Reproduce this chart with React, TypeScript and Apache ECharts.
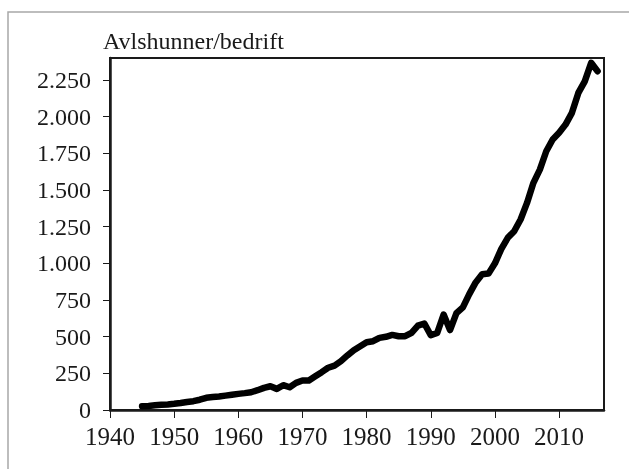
import React, { useEffect, useRef } from "react";
import * as echarts from "echarts";

const years: number[] = [
  1945, 1946, 1947, 1948, 1949, 1950, 1951, 1952, 1953, 1954, 1955, 1956, 1957, 1958, 1959,
  1960, 1961, 1962, 1963, 1964, 1965, 1966, 1967, 1968, 1969, 1970, 1971, 1972, 1973, 1974,
  1975, 1976, 1977, 1978, 1979, 1980, 1981, 1982, 1983, 1984, 1985, 1986, 1987, 1988, 1989,
  1990, 1991, 1992, 1993, 1994, 1995, 1996, 1997, 1998, 1999, 2000, 2001, 2002, 2003, 2004,
  2005, 2006, 2007, 2008, 2009, 2010, 2011, 2012, 2013, 2014, 2015, 2016,
];
const sowsPerFarm: number[] = [
  25, 28, 32, 35, 38, 42, 48, 55, 60, 70, 83, 88, 92, 98, 104,
  110, 115, 121, 135, 151, 162, 144, 169, 155, 185, 201, 201, 230, 258, 288,
  303, 333, 372, 408, 435, 462, 469, 492, 499, 512, 503, 503, 526, 575, 590,
  510, 525, 651, 545, 660, 700, 790, 870, 925, 930, 1000, 1099, 1174, 1219, 1299,
  1412, 1549, 1639, 1764, 1844, 1890, 1946, 2026, 2162, 2241, 2367, 2310,
];
const yTitle = "Avlshunner/bedrift";

const FONT = "Liberation Serif";

function fmt(v: number): string {
  const s = String(Math.round(v));
  return s.replace(/\B(?=(\d{3})+(?!\d))/g, ".");
}

export default function App() {
  const ref = useRef<HTMLDivElement>(null);
  useEffect(() => {
    if (!ref.current) return;
    const chart = echarts.init(ref.current, null, { renderer: "svg" });
    chart.setOption({
      animation: false,
      grid: {
        left: 110,
        right: 25,
        top: 58,
        bottom: 59,
        show: true,
        borderColor: "#1a1a1a",
        borderWidth: 2,
      },
      graphic: [
        {
          type: "rect",
          shape: { x: 8, y: 12, width: 700, height: 600 },
          style: { fill: "none", stroke: "#a8a8a8", lineWidth: 1.5 },
          silent: true,
        },
        {
          type: "text",
          x: 103,
          y: 29,
          style: {
            text: yTitle,
            fontSize: 24,
            fontFamily: FONT,
            fill: "#1a1a1a",
          },
        },
      ],
      xAxis: {
        type: "value",
        min: 1940,
        max: 2017,
        interval: 10,
        axisLine: { show: true, onZero: false, lineStyle: { color: "#1a1a1a", width: 2.5 } },
        axisTick: { show: true, length: 8, lineStyle: { color: "#1a1a1a", width: 1 } },
        axisLabel: {
          showMaxLabel: false,
          margin: 14,
          fontSize: 25,
          fontFamily: FONT,
          color: "#1a1a1a",
          formatter: (v: number) => (v % 10 === 0 ? String(v) : ""),
        },
        splitLine: { show: false },
      },
      yAxis: {
        type: "value",
        min: 0,
        max: 2400,
        interval: 250,
        axisLine: { show: true, onZero: false, lineStyle: { color: "#1a1a1a", width: 2.5 } },
        axisTick: { show: true, length: 7, lineStyle: { color: "#1a1a1a", width: 1 } },
        axisLabel: {
          showMaxLabel: false,
          margin: 19,
          fontSize: 24,
          fontFamily: FONT,
          color: "#1a1a1a",
          formatter: (v: number) => (v % 250 === 0 ? fmt(v) : ""),
        },
        splitLine: { show: false },
      },
      series: [
        {
          type: "line",
          data: years.map((y, i) => [y, sowsPerFarm[i]]),
          showSymbol: false,
          symbol: "none",
          lineStyle: { color: "#000000", width: 6.5, cap: "round", join: "round" },
        },
      ],
    });
    return () => chart.dispose();
  }, []);
  return (
    <div
      ref={ref}
      style={{ position: "fixed", left: 0, top: 0, width: 629, height: 469 }}
    />
  );
}
